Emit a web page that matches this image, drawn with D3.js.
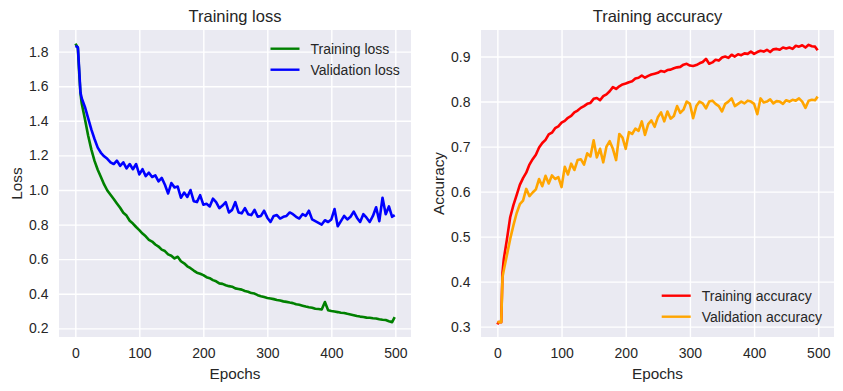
<!DOCTYPE html>
<html>
<head>
<meta charset="utf-8">
<script src="https://cdn.jsdelivr.net/npm/d3@7"></script>
<style>
  html, body { margin: 0; padding: 0; background: #fff; }
  svg { display: block; font-family: "Liberation Sans", Arial, sans-serif; }
</style>
</head>
<body>
<svg id="chart" width="843" height="391"></svg>
<script>
  /* ---------- Data ---------- */
  const epochs = [0,2,4,6,8,10,15,20,25,30,
    35,40,45,50,55,60,65,70,75,80,
    85,90,95,100,105,110,115,120,125,130,
    135,140,145,150,155,160,165,170,175,180,
    185,190,195,200,205,210,215,220,225,230,
    235,240,245,250,255,260,265,270,275,280,
    285,290,295,300,305,310,315,320,325,330,
    335,340,345,350,355,360,365,370,375,380,
    385,390,395,400,405,410,415,420,425,430,
    435,440,445,450,455,460,465,470,475,480,
    485,490,495,499];

  const trainLoss = [1.845,1.835,1.82,1.68,1.56,1.50,1.41,1.315,1.235,1.168,
    1.117,1.075,1.032,0.997,0.972,0.948,0.922,0.897,0.868,0.852,
    0.822,0.806,0.786,0.768,0.748,0.732,0.712,0.702,0.685,0.673,
    0.655,0.647,0.628,0.62,0.604,0.614,0.588,0.576,0.559,0.548,
    0.534,0.522,0.516,0.508,0.496,0.49,0.479,0.472,0.46,0.457,
    0.449,0.444,0.441,0.431,0.428,0.424,0.416,0.412,0.404,0.401,
    0.392,0.386,0.381,0.376,0.373,0.369,0.364,0.361,0.356,0.353,
    0.349,0.346,0.339,0.336,0.331,0.326,0.322,0.319,0.313,0.312,
    0.309,0.352,0.305,0.3,0.297,0.294,0.29,0.289,0.284,0.28,
    0.276,0.271,0.268,0.266,0.262,0.261,0.258,0.257,0.253,0.25,
    0.248,0.241,0.236,0.265];

  const valLoss = [1.832,1.83,1.825,1.70,1.565,1.53,1.48,1.415,1.35,1.295,
    1.245,1.215,1.195,1.18,1.16,1.15,1.17,1.14,1.16,1.125,
    1.15,1.12,1.15,1.09,1.12,1.08,1.10,1.075,1.085,1.05,
    1.07,1.03,0.98,1.04,1.015,1.02,0.955,0.985,0.96,1.0,
    0.935,0.93,0.97,0.915,0.92,0.905,0.95,0.93,0.895,0.91,
    0.93,0.87,0.885,0.93,0.87,0.865,0.895,0.86,0.855,0.885,
    0.845,0.85,0.88,0.84,0.815,0.85,0.855,0.835,0.845,0.85,
    0.87,0.86,0.845,0.835,0.86,0.85,0.88,0.83,0.82,0.81,
    0.8,0.825,0.815,0.83,0.89,0.79,0.82,0.85,0.83,0.845,
    0.875,0.84,0.815,0.86,0.84,0.815,0.85,0.9,0.82,0.955,
    0.86,0.905,0.845,0.855];

  const trainAcc = [0.305,0.31,0.31,0.31,0.42,0.45,0.495,0.543,0.57,0.592,
    0.615,0.63,0.642,0.66,0.672,0.682,0.698,0.708,0.715,0.727,
    0.731,0.741,0.745,0.753,0.757,0.764,0.768,0.776,0.78,0.786,
    0.79,0.795,0.797,0.806,0.808,0.803,0.812,0.816,0.823,0.832,
    0.828,0.834,0.838,0.84,0.843,0.845,0.851,0.853,0.858,0.853,
    0.857,0.86,0.862,0.864,0.868,0.866,0.87,0.871,0.874,0.876,
    0.877,0.882,0.884,0.88,0.879,0.881,0.885,0.888,0.895,0.884,
    0.887,0.893,0.891,0.898,0.9,0.897,0.904,0.9,0.905,0.903,
    0.907,0.906,0.911,0.906,0.91,0.913,0.911,0.915,0.91,0.916,
    0.917,0.915,0.92,0.918,0.92,0.917,0.924,0.922,0.925,0.92,
    0.926,0.923,0.922,0.914];

  const valAcc = [0.31,0.31,0.31,0.31,0.41,0.425,0.46,0.495,0.525,0.552,
    0.572,0.58,0.606,0.59,0.598,0.605,0.628,0.612,0.635,0.618,
    0.636,0.628,0.632,0.61,0.655,0.638,0.662,0.648,0.67,0.672,
    0.66,0.685,0.678,0.714,0.676,0.695,0.665,0.7,0.712,0.695,
    0.67,0.728,0.72,0.695,0.732,0.728,0.74,0.735,0.756,0.726,
    0.75,0.758,0.744,0.765,0.776,0.756,0.778,0.762,0.768,0.79,
    0.775,0.782,0.8,0.795,0.763,0.79,0.8,0.796,0.785,0.8,
    0.802,0.795,0.79,0.778,0.795,0.8,0.807,0.79,0.795,0.8,
    0.796,0.802,0.8,0.795,0.772,0.807,0.798,0.8,0.805,0.796,
    0.801,0.8,0.795,0.803,0.8,0.804,0.802,0.807,0.8,0.786,
    0.802,0.804,0.803,0.811];

  const epochTicks = [0, 100, 200, 300, 400, 500];
  const lossTicks = [0.2, 0.4, 0.6, 0.8, 1.0, 1.2, 1.4, 1.6, 1.8];
  const accTicks = [0.3, 0.4, 0.5, 0.6, 0.7, 0.8, 0.9];

  /* ---------- Style ---------- */
  const bg = '#EAEAF2';
  const textColor = '#262626';
  const svg = d3.select('#chart');

  function drawPanel(p) {
    const x = d3.scaleLinear().domain([-25.5, 524.5]).range([p.left, p.right]);
    const y = d3.scaleLinear().domain(p.yDomain).range([p.bottom, p.top]);
    const g = svg.append('g');

    g.append('rect')
      .attr('x', p.left).attr('y', p.top)
      .attr('width', p.right - p.left).attr('height', p.bottom - p.top)
      .attr('fill', bg);

    // grid
    g.append('g')
      .attr('transform', `translate(0,${p.bottom})`)
      .call(d3.axisBottom(x).tickValues(epochTicks).tickSize(-(p.bottom - p.top)).tickFormat(''))
      .call(s => s.select('.domain').remove())
      .call(s => s.selectAll('line').attr('stroke', '#fff').attr('stroke-width', 1.4));
    g.append('g')
      .attr('transform', `translate(${p.left},0)`)
      .call(d3.axisLeft(y).tickValues(p.yTicks).tickSize(-(p.right - p.left)).tickFormat(''))
      .call(s => s.select('.domain').remove())
      .call(s => s.selectAll('line').attr('stroke', '#fff').attr('stroke-width', 1.4));

    // tick labels
    g.append('g')
      .attr('transform', `translate(0,${p.bottom})`)
      .call(d3.axisBottom(x).tickValues(epochTicks).tickSize(0).tickPadding(11))
      .call(s => s.select('.domain').remove())
      .call(s => s.selectAll('text').attr('fill', textColor).attr('font-size', 14)
        .attr('font-family', '"Liberation Sans", Arial, sans-serif'));
    g.append('g')
      .attr('transform', `translate(${p.left},0)`)
      .call(d3.axisLeft(y).tickValues(p.yTicks).tickSize(0).tickPadding(10.5).tickFormat(d3.format('.1f')))
      .call(s => s.select('.domain').remove())
      .call(s => s.selectAll('text').attr('fill', textColor).attr('font-size', 14)
        .attr('font-family', '"Liberation Sans", Arial, sans-serif'));

    // lines
    const line = d3.line().x(d => x(d[0])).y(d => y(d[1]));
    p.series.forEach(s => {
      g.append('path')
        .datum(d3.zip(epochs, s.values))
        .attr('fill', 'none')
        .attr('stroke', s.color)
        .attr('stroke-width', 2.6)
        .attr('stroke-linejoin', 'round')
        .attr('d', line);
    });

    // title + labels
    g.append('text')
      .attr('x', (p.left + p.right) / 2).attr('y', 22)
      .attr('text-anchor', 'middle').attr('fill', textColor).attr('font-size', 16.5)
      .text(p.title);
    g.append('text')
      .attr('x', (p.left + p.right) / 2).attr('y', 379)
      .attr('text-anchor', 'middle').attr('fill', textColor).attr('font-size', 15.3)
      .text('Epochs');
    g.append('text')
      .attr('transform', `translate(${p.ylabelX},${(p.top + p.bottom) / 2}) rotate(-90)`)
      .attr('text-anchor', 'middle').attr('fill', textColor).attr('font-size', 15.3)
      .text(p.ylabel);

    // legend
    p.series.forEach((s, i) => {
      const ly = p.legend[1] + i * 21;
      g.append('line')
        .attr('x1', p.legend[0]).attr('x2', p.legend[0] + 29)
        .attr('y1', ly).attr('y2', ly)
        .attr('stroke', s.color).attr('stroke-width', 2.4);
      g.append('text')
        .attr('x', p.legend[0] + 40).attr('y', ly).attr('dy', '0.35em')
        .attr('fill', textColor).attr('font-size', 14)
        .text(s.label);
    });
  }

  drawPanel({
    left: 59, right: 411, top: 30, bottom: 337,
    yDomain: [0.15, 1.925], yTicks: lossTicks,
    title: 'Training loss', ylabel: 'Loss', ylabelX: 21.5,
    legend: [270.5, 48.7],
    series: [
      { label: 'Training loss', color: 'green', values: trainLoss },
      { label: 'Validation loss', color: 'blue', values: valLoss }
    ]
  });

  drawPanel({
    left: 481, right: 834, top: 30, bottom: 337,
    yDomain: [0.277, 0.959], yTicks: accTicks,
    title: 'Training accuracy', ylabel: 'Accuracy', ylabelX: 443.5,
    legend: [661.7, 295.7],
    series: [
      { label: 'Training accuracy', color: 'red', values: trainAcc },
      { label: 'Validation accuracy', color: 'orange', values: valAcc }
    ]
  });
</script>
</body>
</html>
